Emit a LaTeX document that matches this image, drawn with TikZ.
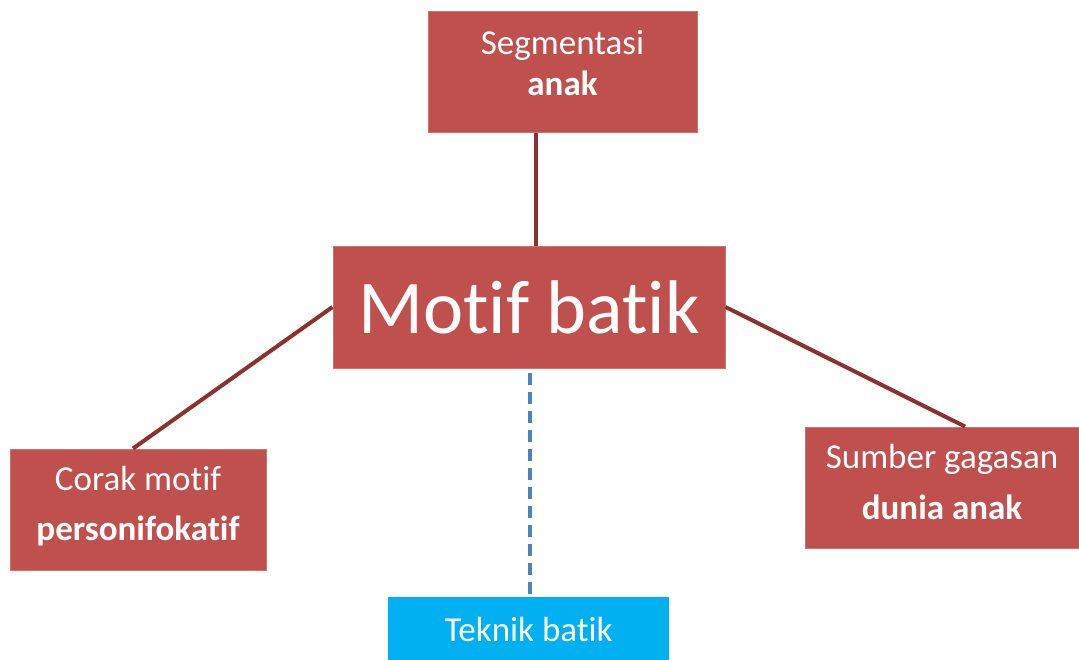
\documentclass[tikz,border=0pt]{standalone}
\usepackage{fontspec}
\setmainfont{Carlito}[RawFeature={-liga;-clig;-calt;-dlig}]
\definecolor{boxred}{HTML}{C0504D}
\definecolor{linered}{RGB}{140,48,48}
\definecolor{boxblue}{HTML}{00B0F0}
\definecolor{dashblue}{HTML}{4F81BD}
\newcommand{\twolines}[4]{\raisebox{#1}[\height][\depth]{\begin{tabular}{@{}c@{}}#2\\[#4]#3\end{tabular}}}
\begin{document}
\begin{tikzpicture}[x=1pt,y=-1pt,
  redbox/.style={fill=boxred,draw=boxred!80!white,line width=1pt,text=white,align=center,inner sep=0pt,
    font=\fontsize{35}{42}\selectfont},
  bluebox/.style={fill=boxblue,text=white,align=center,inner sep=0pt,font=\fontsize{35}{42}\selectfont},
  conn/.style={draw=linered,line width=4pt},
  dconn/.style={draw=dashblue,line width=4pt,dash pattern=on 12pt off 7pt}]
\useasboundingbox (0,0) rectangle (1079,659);
\node[redbox,minimum width=269pt,minimum height=121pt] (top) at (562.5,71.5) {\twolines{4.5pt}{Segmentasi}{\textbf{anak}}{-1pt}};
\node[redbox,minimum width=392pt,minimum height=122pt,font=\fontsize{76}{84}\selectfont] (main) at (529,307) {Motif batik};
\node[redbox,minimum width=256pt,minimum height=121pt] (left) at (138,509.5) {\twolines{2.5pt}{Corak motif}{\textbf{personifokatif}}{8pt}};
\node[redbox,minimum width=274pt,minimum height=121pt] (right) at (942,487.5) {\twolines{1.5pt}{Sumber gagasan}{\textbf{dunia anak}}{9pt}};
\node[bluebox,minimum width=281pt,minimum height=64pt] (bottom) at (528.5,629) {Teknik batik};
\draw[conn] ([xshift=-26.5pt]top.south) -- ([xshift=7pt]main.north);
\draw[conn] (main.west) -- ([xshift=-5pt]left.north);
\draw[conn] (main.east) -- ([xshift=23pt]right.north);
\draw[dconn] ([xshift=1pt,yshift=-4pt]main.south) -- ([xshift=1.5pt]bottom.north);
\end{tikzpicture}
\end{document}
